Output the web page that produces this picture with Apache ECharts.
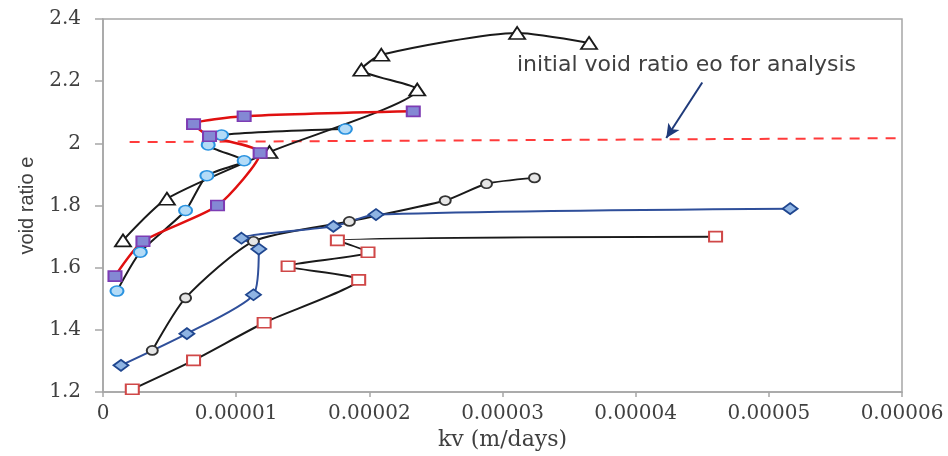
<!DOCTYPE html>
<html>
<head>
<meta charset="utf-8">
<script src="https://cdn.jsdelivr.net/npm/echarts@6/dist/echarts.min.js"></script>
<style>html,body{margin:0;padding:0;background:#fff}#c{width:948px;height:456px}</style>
</head>
<body>
<div id="c"></div>
<script>
// kv (m/days) and void ratio e for each test series
const triKv = [1.5e-6, 4.8e-6, 1.25e-5, 2.36e-5, 1.94e-5, 2.09e-5, 3.11e-5, 3.65e-5];
const triE  = [1.688, 1.822, 1.972, 2.173, 2.237, 2.285, 2.355, 2.323];

const cirKv = [1.05e-6, 2.8e-6, 6.2e-6, 7.8e-6, 1.06e-5, 7.9e-6, 8.9e-6, 1.82e-5];
const cirE  = [1.525, 1.650, 1.784, 1.896, 1.944, 1.995, 2.027, 2.046];

const sqKv = [9e-7, 3.0e-6, 8.6e-6, 1.18e-5, 8.0e-6, 6.8e-6, 1.06e-5, 2.33e-5];
const sqE  = [1.573, 1.685, 1.800, 1.969, 2.023, 2.062, 2.087, 2.103];

const bcKv = [3.7e-6, 6.2e-6, 1.13e-5, 1.85e-5, 2.57e-5, 2.88e-5, 3.24e-5];
const bcE  = [1.334, 1.503, 1.685, 1.749, 1.816, 1.870, 1.889];

const dmKv = [1.35e-6, 6.3e-6, 1.13e-5, 1.17e-5, 1.04e-5, 1.73e-5, 2.05e-5, 5.16e-5];
const dmE  = [1.286, 1.388, 1.513, 1.660, 1.695, 1.733, 1.771, 1.790];

const rsKv = [2.2e-6, 6.8e-6, 1.21e-5, 1.92e-5, 1.39e-5, 1.99e-5, 1.76e-5, 4.60e-5];
const rsE  = [1.209, 1.302, 1.423, 1.561, 1.605, 1.650, 1.688, 1.700];

// initial void ratio reference line and arrow
const e0Kv = [2e-6, 6.12e-5];
const e0E  = [2.004, 2.017];
const arrowKv = [4.50e-5, 4.23e-5];
const arrowE  = [2.196, 2.017];
const noteText = 'initial void ratio eo for analysis';

const xTicks = {min: 0, max: 0.00006, interval: 0.00001};
const yTicks = {min: 1.2, max: 2.4, interval: 0.2};

const pairs = (xs, ys) => xs.map((x, i) => [x, ys[i]]);

const chart = echarts.init(document.getElementById('c'), null, {renderer: 'canvas'});
const serifFont = 'DejaVu Serif';

function lineSeries(name, xs, ys, lineColor, lineWidth, symbol, size, fill, border) {
  return {
    name, type: 'line', data: pairs(xs, ys), smooth: 0.22,
    symbol, symbolSize: size,
    lineStyle: {color: lineColor, width: lineWidth},
    itemStyle: {color: fill, borderColor: border, borderWidth: 1.8},
    emphasis: {disabled: true}, z: 3
  };
}

chart.setOption({
  animation: false,
  grid: {left: 103, right: 46, top: 19, bottom: 60, show: true, borderColor: '#a6a6a6', borderWidth: 1.5},
  xAxis: {
    type: 'value', min: xTicks.min, max: xTicks.max, interval: xTicks.interval,
    name: 'kv (m/days)', nameLocation: 'middle', nameGap: 36,
    nameTextStyle: {fontFamily: serifFont, fontSize: 22, color: '#404040'},
    axisLine: {show: true, lineStyle: {color: '#a6a6a6', width: 1.5}},
    axisTick: {show: true, length: 5, lineStyle: {color: '#a6a6a6', width: 1.5}},
    axisLabel: {fontFamily: serifFont, fontSize: 20, color: '#404040', margin: 12,
      formatter: v => v === 0 ? '0' : v.toFixed(5)},
    splitLine: {show: false}
  },
  yAxis: {
    type: 'value', min: yTicks.min, max: yTicks.max, interval: yTicks.interval,
    name: 'void ratio e', nameLocation: 'middle', nameGap: 66,
    nameTextStyle: {fontFamily: 'Liberation Sans Narrow, Liberation Sans', fontSize: 20, color: '#404040'},
    axisLine: {show: true, lineStyle: {color: '#a6a6a6', width: 1.5}},
    axisTick: {show: true, length: 8, lineStyle: {color: '#a6a6a6', width: 1.5}},
    axisLabel: {fontFamily: serifFont, fontSize: 20, color: '#404040', margin: 22,
      formatter: v => String(+v.toFixed(1))},
    splitLine: {show: false}
  },
  graphic: [{
    type: 'text', left: 517, top: 54, z: 10,
    style: {text: noteText, fontFamily: 'DejaVu Sans', fontSize: 22, fill: '#404040'}
  }],
  series: [
    {
      name: 'e0', type: 'line', data: pairs(e0Kv, e0E), clip: false, symbol: 'none',
      lineStyle: {color: '#ff3b3b', width: 2, type: [10, 8]}, z: 2,
      markLine: {
        silent: true, animation: false, symbolSize: [10, 14],
        lineStyle: {color: '#1f3a7a', width: 2, type: 'solid'},
        label: {show: false},
        data: [[
          {coord: [arrowKv[0], arrowE[0]], symbol: 'none'},
          {coord: [arrowKv[1], arrowE[1]], symbol: 'arrow'}
        ]]
      }
    },
    lineSeries('tri', triKv, triE, '#1a1a1a', 2, 'triangle', [16, 12], '#ffffff', '#1a1a1a'),
    lineSeries('cir', cirKv, cirE, '#1a1a1a', 2, 'circle', [13, 10], '#b3dbf7', '#2a93e0'),
    lineSeries('sq', sqKv, sqE, '#e01010', 2.5, 'rect', [13, 10], '#8488d4', '#7d3cb4'),
    lineSeries('bc', bcKv, bcE, '#1a1a1a', 2, 'circle', [11, 9], '#e6e6e6', '#333333'),
    lineSeries('dm', dmKv, dmE, '#2f4f9a', 2, 'diamond', [15, 11], '#8fb4e3', '#1f468f'),
    lineSeries('rs', rsKv, rsE, '#1a1a1a', 2, 'rect', [13, 10], '#ffffff', '#d04848')
  ]
});
</script>
</body>
</html>
